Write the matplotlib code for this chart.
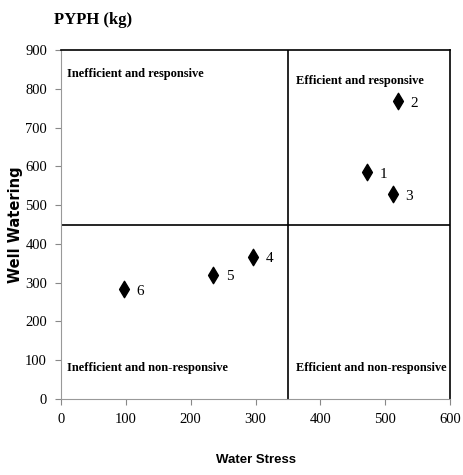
import matplotlib.pyplot as plt

# data
ids = ['1', '2', '3', '4', '5', '6']
water_stress = [472, 520, 512, 296, 235, 97]
well_watering = [585, 768, 528, 367, 321, 283]

x_ticks = [0, 100, 200, 300, 400, 500, 600]
y_ticks = [0, 100, 200, 300, 400, 500, 600, 700, 800, 900]
x_split = 350
y_split = 450

quadrants = ['Inefficient and responsive', 'Efficient and responsive',
             'Inefficient and non-responsive', 'Efficient and non-responsive']

serif = 'Liberation Serif'

fig = plt.figure(figsize=(4.63, 4.75), dpi=100)
ax = fig.add_axes([0.1317, 0.16, 0.8403, 0.7347])

ax.scatter(water_stress, well_watering, marker='d', s=70, color='black', zorder=3)
for lab, x, y in zip(ids, water_stress, well_watering):
    ax.annotate(lab, (x, y), xytext=(9, -4), textcoords='offset points',
                fontsize=11, family=serif)

# quadrant dividers
ax.axvline(x_split, color='black', lw=1.2)
ax.axhline(y_split, color='black', lw=1.2)

qkw = dict(fontsize=9, family=serif, fontweight='bold', va='center')
ax.text(9, 838, quadrants[0], **qkw)
ax.text(363, 820, quadrants[1], **qkw)
ax.text(9, 80, quadrants[2], **qkw)
ax.text(363, 80, quadrants[3], fontsize=8.8, family=serif, fontweight='bold', va='center')

ax.set_xlim(0, 600)
ax.set_ylim(0, 900)
ax.set_xticks(x_ticks)
ax.set_yticks(y_ticks)
for t in ax.get_xticklabels() + ax.get_yticklabels():
    t.set_family(serif)
    t.set_fontsize(10.5)
ax.tick_params(axis='both', direction='out', length=4, color='#888888', pad=6)

for side in ['left', 'bottom']:
    ax.spines[side].set_color('#999999')
for side in ['top', 'right']:
    ax.spines[side].set_color('black')
    ax.spines[side].set_linewidth(1.2)

ax.set_xlabel('Water Stress', fontsize=9.5, fontweight='bold', family='Liberation Sans', labelpad=20)
ax.set_ylabel('Well Watering', fontsize=10.5, fontweight='bold', family='DejaVu Sans', labelpad=1.5)

fig.text(0.117, 0.958, 'PYPH (kg)', fontsize=12, fontweight='bold', family=serif, va='center')

fig.savefig('out.png', dpi=100)
